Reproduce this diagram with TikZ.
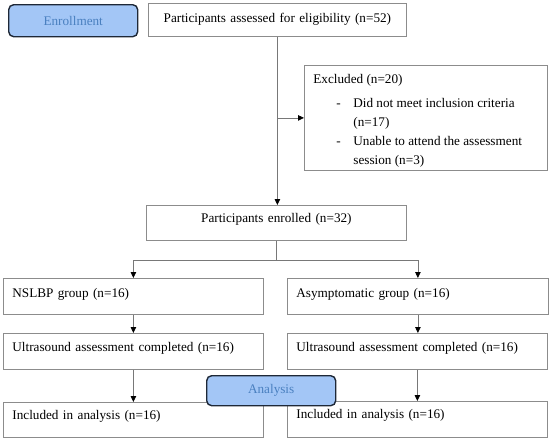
\documentclass[tikz,border=0pt]{standalone}
\usepackage{fontspec}
\setmainfont{Liberation Serif}
\usetikzlibrary{arrows.meta}
\definecolor{boxgray}{RGB}{140,140,140}
\definecolor{linegray}{RGB}{120,120,120}
\definecolor{phasefill}{RGB}{163,198,246}
\definecolor{phasetext}{RGB}{74,128,192}
\definecolor{phaseedge}{RGB}{30,40,55}
\tikzset{
  bx/.style={draw=boxgray, line width=0.8pt, anchor=north west, inner xsep=9pt, inner ysep=0pt, align=left, font=\fontsize{13.2pt}{17pt}\selectfont},
  phase/.style={draw=phaseedge, line width=1.4pt, fill=phasefill, rounded corners=5pt, text=phasetext, anchor=north west, inner sep=0pt, font=\fontsize{13.2pt}{16pt}\selectfont},
  arr/.style={draw=linegray, line width=0.8pt, -{Triangle[length=6pt,width=5.5pt,color=black]}},
  ln/.style={draw=linegray, line width=0.8pt}
}
\begin{document}
\begin{tikzpicture}[x=1pt,y=-1pt]
\useasboundingbox (0,0) rectangle (550,440);
\node[phase, minimum width=129pt, minimum height=32pt] (enroll) at (8,4) {Enrollment};
\node[bx, text width=240pt, align=center, text height=19pt, text depth=14pt] (assessed) at (148,3) {Participants assessed for eligibility (n=52)};
\node[bx] (excluded) at (304,65) {\parbox[t][105pt][t]{225pt}{\baselineskip=19pt\rule{0pt}{18pt}Excluded (n=20)\\[5pt]
\hspace*{23pt}\makebox[17pt][l]{-}Did not meet inclusion criteria\\
\hspace*{40pt}(n=17)\\
\hspace*{23pt}\makebox[17pt][l]{-}Unable to attend the assessment\\
\hspace*{40pt}session (n=3)}};
\node[bx, text width=242pt, align=center, text height=17pt, text depth=18pt] (enrolled) at (146,205) {Participants enrolled (n=32)};
\node[bx, text width=242pt, text height=19pt, text depth=17pt] (nslbp) at (3,278) {NSLBP group (n=16)};
\node[bx, text width=243pt, text height=19pt, text depth=17pt] (asym) at (287,278) {Asymptomatic group (n=16)};
\node[bx, text width=242pt, text height=18pt, text depth=18pt] (us1) at (3,333) {Ultrasound assessment completed (n=16)};
\node[bx, text width=242pt, text height=18pt, text depth=18pt] (us2) at (287,333) {Ultrasound assessment completed (n=16)};
\node[bx, text width=242pt, text height=17pt, text depth=18pt] (inc1) at (3,402) {Included in analysis (n=16)};
\node[bx, text width=242pt, text height=17pt, text depth=19pt] (inc2) at (287,401) {Included in analysis (n=16)};
\draw[arr] (assessed.south) -- (assessed.south |- enrolled.north);
\draw[arr] (assessed.south |- excluded.west) -- (excluded.west);
\draw[ln] (enrolled.south) -- ++(0,20) coordinate (split);
\draw[arr] (split) -| (nslbp.north);
\draw[arr] (split) -| (asym.north);
\draw[arr] (nslbp.south) -- (us1.north);
\draw[arr] (asym.south) -- (asym.south |- us2.north);
\draw[arr] (us1.south) -- (inc1.north);
\draw[arr] (us2.south) -- (us2.south |- inc2.north);
\node[phase, minimum width=129pt, minimum height=30pt] (analysis) at (206,375) {Analysis};
\end{tikzpicture}
\end{document}
